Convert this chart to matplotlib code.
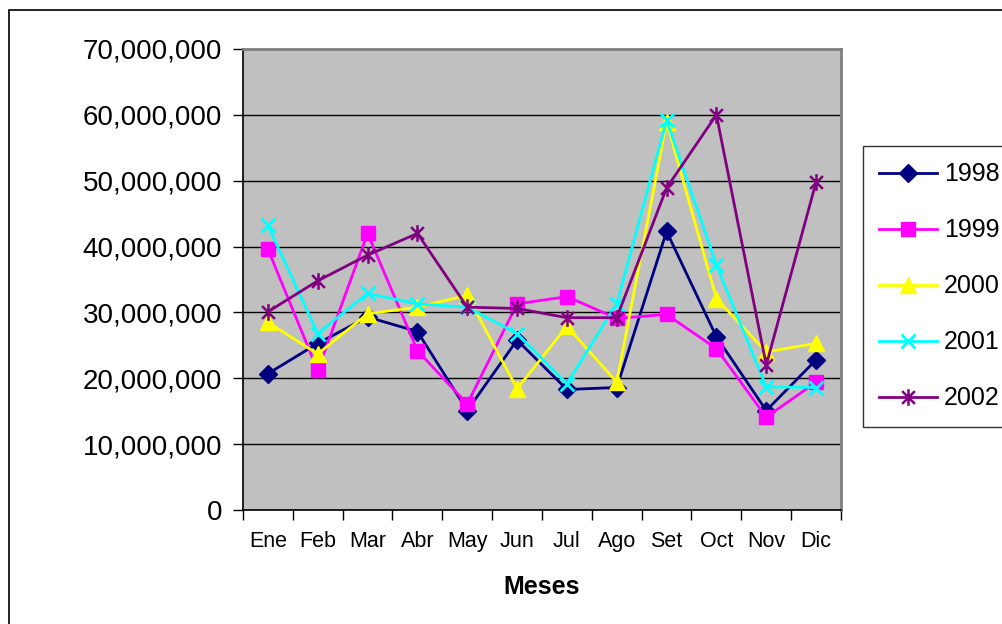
"""
Ventas mensuales 1998-2002 -- recreated line chart
"""

import matplotlib
matplotlib.use("Agg")
import matplotlib.pyplot as plt
from matplotlib.path import Path
from matplotlib.patches import Rectangle
from matplotlib.ticker import FuncFormatter, MultipleLocator

plt.rcParams["font.family"] = ["Liberation Sans", "DejaVu Sans"]

# ── Data ──────────────────────────────────────────────────────────────────────
months = ["Ene", "Feb", "Mar", "Abr", "May", "Jun",
          "Jul", "Ago", "Set", "Oct", "Nov", "Dic"]
years = ["1998", "1999", "2000", "2001", "2002"]

v1998 = [20.7, 25.3, 29.3, 27.1, 15.1, 25.8, 18.3, 18.6, 42.3, 26.3, 15.1, 22.8]
v1999 = [39.6, 21.2, 42.0, 24.2, 16.1, 31.3, 32.4, 29.1, 29.7, 24.5, 14.1, 19.4]
v2000 = [28.5, 23.7, 29.8, 30.8, 32.6, 18.4, 27.9, 19.4, 58.9, 32.1, 24.0, 25.3]
v2001 = [43.2, 26.8, 32.9, 31.3, 30.8, 26.8, 19.2, 31.3, 59.2, 37.2, 18.7, 18.6]
v2002 = [30.1, 34.8, 38.7, 42.0, 30.8, 30.6, 29.2, 29.2, 48.9, 60.0, 22.0, 49.8]
series = [v1998, v1999, v2000, v2001, v2002]   # millions

# ── Styles ────────────────────────────────────────────────────────────────────
# asterisk marker: x plus vertical bar (Excel "star")
STAR = Path([(-1, -1), (1, 1), (-1, 1), (1, -1), (0, -1.3), (0, 1.3)],
            [Path.MOVETO, Path.LINETO, Path.MOVETO, Path.LINETO,
             Path.MOVETO, Path.LINETO])

styles = [
    dict(color="#000080", marker="D", ms=9),
    dict(color="#FF00FF", marker="s", ms=9.5),
    dict(color="#FFFF00", marker="^", ms=11.5),
    dict(color="#00FFFF", marker="x", ms=10, mew=2),
    dict(color="#800080", marker=STAR, ms=12, mew=1.8),
]

# ── Canvas ────────────────────────────────────────────────────────────────────
fig = plt.figure(figsize=(10.03, 6.24), dpi=100, facecolor="white")
ax = fig.add_axes([243/1003, 1 - 510/624, (841-243)/1003, (510-49)/624])
ax.set_facecolor("#C0C0C0")

x = list(range(len(months)))
for name, vals, st in zip(years, series, styles):
    ax.plot(x, [v * 1e6 for v in vals], label=name, lw=2, zorder=3, **st)

ax.set_xlim(-0.5, len(months) - 0.5)
ax.set_ylim(0, 70e6)
ax.yaxis.set_major_locator(MultipleLocator(10e6))
ax.yaxis.set_major_formatter(FuncFormatter(lambda v, p: f"{int(v):,}"))
ax.grid(axis="y", color="black", lw=1.0, zorder=1)
ax.set_axisbelow(True)

ax.set_xticks(x)
ax.set_xticklabels(months, fontsize=15.5)
ax.set_xticks([i - 0.5 for i in range(len(months) + 1)], minor=True)
ax.tick_params(axis="x", which="major", length=0, pad=15)
ax.tick_params(axis="x", which="minor", length=7, width=1, direction="out")
ax.tick_params(axis="y", labelsize=20, length=7, width=1, pad=8)

for side in ["top", "right"]:
    ax.spines[side].set_color("#808080")
    ax.spines[side].set_linewidth(2)
for side in ["left", "bottom"]:
    ax.spines[side].set_color("black")
    ax.spines[side].set_linewidth(1.2)

ax.set_xlabel("Meses", fontsize=18, fontweight="bold", labelpad=17)

# ── Legend ────────────────────────────────────────────────────────────────────
leg = fig.legend(loc="upper left", bbox_to_anchor=(863/1003, 1 - 146/624),
                 fontsize=18, frameon=True, fancybox=False, handlelength=2.3,
                 handletextpad=0.3, labelspacing=1.28, borderpad=0.65,
                 borderaxespad=0)
leg.get_frame().set_edgecolor("black")
leg.get_frame().set_linewidth(1)

# ── Outer chart border ────────────────────────────────────────────────────────
fig.patches.append(Rectangle((9/1003, -0.1), 1.2, 1.1 - 10/624,
                             transform=fig.transFigure, fill=False,
                             edgecolor="black", lw=1.2))

fig.savefig("out.png", dpi=100, facecolor="white")
